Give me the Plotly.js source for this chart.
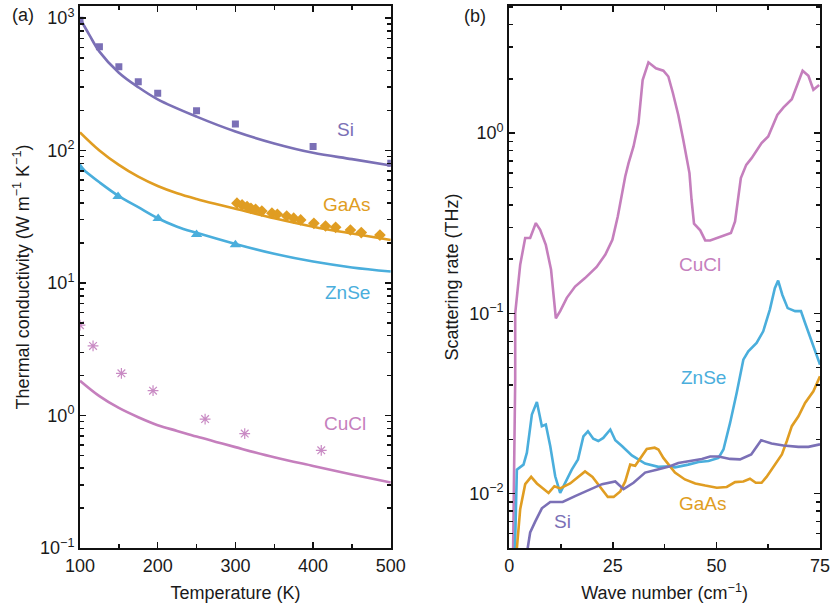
<!DOCTYPE html>
<html><head><meta charset="utf-8">
<script src="https://cdn.plot.ly/plotly-3.0.1.min.js"></script>
<style>html,body{margin:0;padding:0;background:#fff}#chart{width:832px;height:610px}</style>
</head><body><div id="chart"></div>
<script>
// ---------- Panel (a): thermal conductivity vs temperature ----------
const siCurveT   = [100, 112, 125, 150, 175, 200, 250, 300, 350, 400, 450, 500];
const siCurveK   = [990, 745, 557, 386, 300, 243, 180, 139, 113, 96, 86, 77];
const siExpT     = [100, 125, 150, 175, 200, 250, 300, 400, 500];
const siExpK     = [960, 607, 429, 330, 270, 199, 158, 107, 80];

const gaasCurveT = [100, 125, 150, 175, 200, 225, 250, 275, 300, 350, 400, 450, 500];
const gaasCurveK = [137, 100, 77.8, 63.4, 53.9, 47.5, 43, 39.4, 36.3, 30.8, 26.6, 23.6, 21.1];
const gaasExpT   = [302, 308.6, 315, 320, 326, 334, 347, 354, 366, 375, 384, 401, 416, 429, 448, 462, 486];
const gaasExpK   = [40, 38.8, 37.7, 36.6, 36, 34.9, 33.6, 33, 32, 30.8, 29.9, 28.2, 26.9, 26.3, 25.1, 24, 23];

const znseCurveT = [100, 125, 150, 175, 200, 225, 250, 300, 350, 400, 450, 500];
const znseCurveK = [75, 57.5, 45.2, 37.3, 30.8, 26.6, 23.9, 19.7, 16.6, 14.5, 13.1, 12.2];
const znseExpT   = [100, 149, 200.6, 250, 300];
const znseExpK   = [74, 45, 30.6, 23.2, 19.4];

const cuclCurveT = [100, 125, 150, 175, 200, 225, 250, 275, 300, 350, 400, 450, 500];
const cuclCurveK = [1.83, 1.40, 1.14, 0.97, 0.845, 0.765, 0.693, 0.632, 0.577, 0.484, 0.416, 0.359, 0.312];
const cuclExpT   = [100, 116.8, 153.3, 194, 261, 312, 410.5];
const cuclExpK   = [4.8, 3.35, 2.08, 1.54, 0.94, 0.73, 0.546];

// ---------- Panel (b): scattering rate vs wave number ----------
const cuclWn = [0.9, 1.45, 1.45, 2.65, 3.86, 5.06, 6.43, 7.47, 8.84, 10.1, 11.26, 12.3, 13.9, 15.9, 18.3, 21.1, 23.2, 24.9, 26.2, 27.2, 28.0, 28.8, 30.0, 31.2, 32.2, 33.6, 35.4, 37.2, 38.4, 39.5, 40.8, 42.0, 43.5, 44.0, 44.6, 46.1, 47.3, 48.5, 50.9, 53.5, 54.5, 55.9, 57.2, 58.5, 60.9, 62.5, 64.7, 66.2, 68.2, 69.8, 70.8, 72.2, 73.4, 74.8];
const cuclRate = [0.004, 0.043, 0.100, 0.186, 0.262, 0.262, 0.317, 0.291, 0.240, 0.175, 0.094, 0.103, 0.122, 0.141, 0.157, 0.181, 0.212, 0.256, 0.345, 0.465, 0.575, 0.682, 0.843, 1.136, 1.97, 2.47, 2.29, 2.22, 2.06, 1.67, 1.26, 0.918, 0.600, 0.427, 0.315, 0.289, 0.254, 0.254, 0.265, 0.279, 0.324, 0.563, 0.667, 0.726, 0.881, 0.958, 1.26, 1.39, 1.54, 1.93, 2.22, 2.08, 1.74, 1.85];

const znseWn = [1.3, 1.85, 3.45, 4.27, 5.47, 6.68, 7.88, 8.84, 9.9, 11.1, 12.3, 13.5, 15.1, 16.6, 17.9, 19.0, 20.3, 21.5, 22.7, 24.4, 25.6, 27.2, 29.6, 32.8, 36.0, 38.8, 40.0, 43.2, 45.7, 48.1, 50.5, 51.7, 53.3, 54.9, 55.9, 56.5, 57.7, 59.7, 61.3, 62.9, 64.1, 64.9, 65.9, 67.2, 69.0, 70.4, 71.4, 73.4, 75.0];
const znseRate = [0.004, 0.0136, 0.0145, 0.0169, 0.0275, 0.0323, 0.0237, 0.0242, 0.0184, 0.0125, 0.0101, 0.0115, 0.0136, 0.0155, 0.0208, 0.0222, 0.0202, 0.0196, 0.0204, 0.0227, 0.0198, 0.0184, 0.0163, 0.0147, 0.0141, 0.0142, 0.0140, 0.0145, 0.0150, 0.0152, 0.0158, 0.0176, 0.0247, 0.0363, 0.0489, 0.0554, 0.0617, 0.0686, 0.0796, 0.105, 0.138, 0.152, 0.127, 0.107, 0.103, 0.103, 0.0885, 0.0657, 0.052];

const gaasWn = [1.5, 2.65, 3.86, 5.3, 6.68, 8.0, 9.5, 10.9, 12.3, 14.7, 16.9, 18.3, 20.1, 21.9, 23.8, 25.2, 26.8, 28.0, 29.2, 30.4, 31.6, 33.2, 35.1, 36.0, 37.2, 38.8, 40.0, 42.4, 44.9, 47.3, 50.1, 52.5, 54.5, 56.5, 58.1, 59.5, 60.9, 62.1, 64.1, 65.8, 67.0, 68.2, 69.8, 71.4, 73.4, 75.0];
const gaasRate = [0.004, 0.0082, 0.0113, 0.0124, 0.0114, 0.0108, 0.0101, 0.0110, 0.0107, 0.0114, 0.0125, 0.0133, 0.0124, 0.0110, 0.0096, 0.0096, 0.0103, 0.0117, 0.0145, 0.0143, 0.0156, 0.0177, 0.0180, 0.0176, 0.0158, 0.0142, 0.0131, 0.0120, 0.0114, 0.0111, 0.0108, 0.0109, 0.0116, 0.0117, 0.0121, 0.0115, 0.0115, 0.0124, 0.0145, 0.0165, 0.0196, 0.0237, 0.0269, 0.0319, 0.0370, 0.0448];

const siWn = [3.8, 5.06, 6.27, 7.88, 9.9, 12.9, 15.9, 19.1, 22.4, 25.6, 27.6, 30.0, 32.8, 35.6, 38.8, 40.8, 44.0, 46.5, 48.5, 50.5, 53.3, 55.7, 58.4, 60.8, 63.3, 66.2, 69.8, 72.2, 75.0];
const siRate = [0.004, 0.0061, 0.0070, 0.0083, 0.0090, 0.0090, 0.0097, 0.0105, 0.0113, 0.0117, 0.0106, 0.0115, 0.0131, 0.0136, 0.0142, 0.0148, 0.0152, 0.0156, 0.0161, 0.0161, 0.0156, 0.0155, 0.0165, 0.0198, 0.0190, 0.0185, 0.0182, 0.0182, 0.0188];

// ---------- styles ----------
const C = {si:'#7b70b6', gaas:'#e09d22', znse:'#4aaedc', cucl:'#c57fbd', cuclMk:'#c98bc4'};
const LW = 2.6;
const FONT = 'Liberation Sans, Arial, sans-serif';
const TXT = '#1a1a1a';

function minorLog(lo, hi){ const v=[]; for(let e=lo;e<=hi;e++){ for(let m=2;m<=9;m++) v.push(m*Math.pow(10,e)); } return v; }

const traces = [
  {x:siCurveT, y:siCurveK, mode:'lines', line:{color:C.si, width:LW, shape:'spline'}, xaxis:'x', yaxis:'y'},
  {x:gaasCurveT, y:gaasCurveK, mode:'lines', line:{color:C.gaas, width:LW, shape:'spline'}, xaxis:'x', yaxis:'y'},
  {x:znseCurveT, y:znseCurveK, mode:'lines', line:{color:C.znse, width:LW, shape:'spline'}, xaxis:'x', yaxis:'y'},
  {x:cuclCurveT, y:cuclCurveK, mode:'lines', line:{color:C.cucl, width:LW, shape:'spline'}, xaxis:'x', yaxis:'y'},
  {x:siExpT, y:siExpK, mode:'markers', marker:{symbol:'square', size:7, color:C.si}, xaxis:'x', yaxis:'y'},
  {x:gaasExpT, y:gaasExpK, mode:'markers', marker:{symbol:'diamond', size:9, color:C.gaas}, xaxis:'x', yaxis:'y'},
  {x:znseExpT, y:znseExpK, mode:'markers', marker:{symbol:'triangle-up', size:10, color:C.znse}, xaxis:'x', yaxis:'y'},
  {x:cuclExpT, y:cuclExpK, mode:'markers', marker:{symbol:'asterisk-open', size:9, color:C.cuclMk, line:{color:C.cuclMk, width:1.2}}, xaxis:'x', yaxis:'y'},

  {x:cuclWn, y:cuclRate, mode:'lines', line:{color:C.cucl, width:LW}, xaxis:'x2', yaxis:'y2'},
  {x:znseWn, y:znseRate, mode:'lines', line:{color:C.znse, width:LW}, xaxis:'x2', yaxis:'y2'},
  {x:gaasWn, y:gaasRate, mode:'lines', line:{color:C.gaas, width:LW}, xaxis:'x2', yaxis:'y2'},
  {x:siWn, y:siRate, mode:'lines', line:{color:C.si, width:LW}, xaxis:'x2', yaxis:'y2'}
];

const axBase = {showline:true, linecolor:'#111', linewidth:2, mirror:'allticks', ticks:'inside', ticklen:6, tickwidth:1.5, tickcolor:'#111', showgrid:false, zeroline:false, automargin:false, tickfont:{family:FONT, size:18, color:TXT}};
const minorBase = {ticks:'inside', ticklen:4, tickwidth:1.5, tickcolor:'#111'};
const titleFont = {family:FONT, size:18, color:TXT};
const labelFont = c => ({family:FONT, size:19, color:c});

const layout = {
  width:832, height:610, showlegend:false,
  paper_bgcolor:'#fff', plot_bgcolor:'#fff',
  margin:{l:80, r:12, t:6, b:62},
  font:{family:FONT, color:TXT},
  xaxis:Object.assign({}, axBase, {domain:[0,0.42], anchor:'y', range:[100,500], tickvals:[100,200,300,400,500],
    minor:Object.assign({tickvals:[150,250,350,450]}, minorBase),
    title:{text:'Temperature (K)', font:titleFont, standoff:12}}),
  yaxis:Object.assign({}, axBase, {domain:[0,1], anchor:'x', type:'log', range:[-1,3.09],
    tickvals:[0.1,1,10,100,1000], ticktext:['10<sup>−1</sup>','10<sup>0</sup>','10<sup>1</sup>','10<sup>2</sup>','10<sup>3</sup>'],
    minor:Object.assign({tickvals:minorLog(-1,2)}, minorBase),
    title:{text:'Thermal conductivity (W m<sup>−1</sup> K<sup>−1</sup>)', font:titleFont, standoff:6}}),
  xaxis2:Object.assign({}, axBase, {domain:[0.58,1], anchor:'y2', range:[0,75], tickvals:[0,25,50,75],
    minor:Object.assign({tickvals:[12.5,37.5,62.5]}, minorBase),
    title:{text:'Wave number (cm<sup>−1</sup>)', font:titleFont, standoff:12}}),
  yaxis2:Object.assign({}, axBase, {domain:[0,1], anchor:'x2', type:'log', range:[-2.301,0.705],
    tickvals:[0.01,0.1,1], ticktext:['10<sup>−2</sup>','10<sup>−1</sup>','10<sup>0</sup>'],
    minor:Object.assign({tickvals:minorLog(-3,0).filter(v=>v>=0.005 && v<=5)}, minorBase),
    title:{text:'Scattering rate (THz)', font:titleFont, standoff:6}}),
  annotations:[
    {text:'(a)', xref:'paper', yref:'paper', x:-0.077, y:0.984, xanchor:'center', yanchor:'middle', showarrow:false, font:titleFont},
    {text:'(b)', xref:'paper', yref:'paper', x:0.534, y:0.982, xanchor:'center', yanchor:'middle', showarrow:false, font:titleFont},
    {text:'Si', xref:'x', yref:'y', x:442, y:2.155, showarrow:false, font:labelFont(C.si)},
    {text:'GaAs', xref:'x', yref:'y', x:443, y:1.589, showarrow:false, font:labelFont(C.gaas)},
    {text:'ZnSe', xref:'x', yref:'y', x:444.5, y:0.925, showarrow:false, font:labelFont(C.znse)},
    {text:'CuCl', xref:'x', yref:'y', x:440.6, y:-0.057, showarrow:false, font:labelFont(C.cucl)},
    {text:'CuCl', xref:'x2', yref:'y2', x:46.1, y:-0.730, showarrow:false, font:labelFont(C.cucl)},
    {text:'ZnSe', xref:'x2', yref:'y2', x:46.8, y:-1.356, showarrow:false, font:labelFont(C.znse)},
    {text:'GaAs', xref:'x2', yref:'y2', x:46.8, y:-2.054, showarrow:false, font:labelFont(C.gaas)},
    {text:'Si', xref:'x2', yref:'y2', x:12.8, y:-2.154, showarrow:false, font:labelFont(C.si)}
  ]
};

Plotly.newPlot('chart', traces, layout, {displayModeBar:false, staticPlot:true});
</script></body></html>
